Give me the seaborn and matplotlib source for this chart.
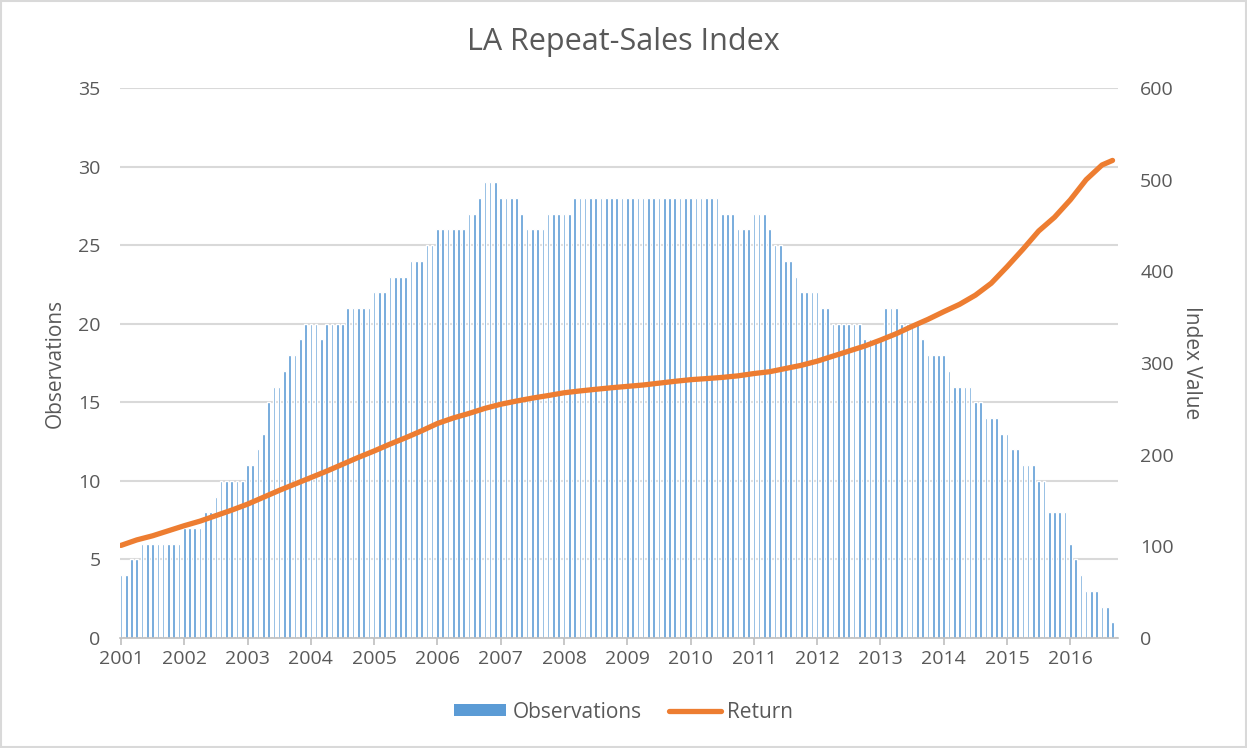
import matplotlib
matplotlib.use("Agg")
import matplotlib.pyplot as plt
import seaborn as sns
import numpy as np
import pandas as pd
from matplotlib.patches import Patch, Rectangle
from matplotlib.lines import Line2D

# monthly observation counts, Jan 2001 .. Sep 2016
obs_2001 = [4, 4, 5, 5, 6, 6, 6, 6, 6, 6, 6, 6]
obs_2002 = [7, 7, 7, 7, 8, 8, 9, 10, 10, 10, 10, 10]
obs_2003 = [11, 11, 12, 13, 15, 16, 16, 17, 18, 18, 19, 20]
obs_2004 = [20, 20, 19, 20, 20, 20, 20, 21, 21, 21, 21, 21]
obs_2005 = [22, 22, 22, 23, 23, 23, 23, 24, 24, 24, 25, 25]
obs_2006 = [26, 26, 26, 26, 26, 26, 27, 27, 28, 29, 29, 29]
obs_2007 = [28, 28, 28, 28, 27, 26, 26, 26, 26, 27, 27, 27]
obs_2008 = [27, 27, 28, 28, 28, 28, 28, 28, 28, 28, 28, 28]
obs_2009 = [28, 28, 28, 28, 28, 28, 28, 28, 28, 28, 28, 28]
obs_2010 = [28, 28, 28, 28, 28, 28, 27, 27, 27, 26, 26, 26]
obs_2011 = [27, 27, 27, 26, 25, 25, 24, 24, 23, 22, 22, 22]
obs_2012 = [22, 21, 21, 20, 20, 20, 20, 20, 20, 19, 19, 19]
obs_2013 = [19, 21, 21, 21, 20, 20, 20, 20, 19, 18, 18, 18]
obs_2014 = [18, 17, 16, 16, 16, 16, 15, 15, 14, 14, 14, 13]
obs_2015 = [13, 12, 12, 11, 11, 11, 10, 10, 8, 8, 8, 8]
obs_2016 = [6, 5, 4, 3, 3, 3, 2, 2, 1]

# index value (Return), read roughly every quarter (months since Jan 2001)
ret_month = [0, 3, 6, 9, 12, 15, 18, 21, 24, 27, 30, 33, 36, 39, 42, 45, 48, 51,
             54, 57, 60, 63, 66, 69, 72, 75, 78, 81, 84, 87, 90, 93, 96, 99, 102,
             105, 108, 111, 114, 117, 120, 123, 126, 129, 132, 135, 138, 141, 144,
             147, 150, 153, 156, 159, 162, 165, 168, 171, 174, 177, 180, 183, 186, 188]
ret_value = [101, 107, 111.5, 117, 122.5, 127.5, 133.5, 139.5, 146, 153.5, 161, 168,
             175, 182, 189.5, 197, 204, 211.5, 218.5, 226, 234, 240, 245, 250.5,
             255, 258.5, 261.7, 264.5, 267.5, 269.5, 271.3, 273, 274.5, 276, 278,
             280, 281.8, 283, 284.3, 286, 288.5, 290.5, 294, 297.5, 302, 307.5,
             313, 318.5, 325, 332, 340, 347.6, 356, 364, 374, 387, 405, 424, 444,
             459, 478, 500, 516, 521]

years = list(range(2001, 2017))
left_ticks = [0, 5, 10, 15, 20, 25, 30, 35]
right_ticks = [0, 100, 200, 300, 400, 500, 600]

observations = (obs_2001 + obs_2002 + obs_2003 + obs_2004 + obs_2005 + obs_2006 +
                obs_2007 + obs_2008 + obs_2009 + obs_2010 + obs_2011 + obs_2012 +
                obs_2013 + obs_2014 + obs_2015 + obs_2016)
bars = pd.DataFrame({
    "date": 2001 + np.arange(len(observations)) / 12.0,
    "Observations": observations,
})
line = pd.DataFrame({
    "date": 2001 + np.array(ret_month) / 12.0,
    "Return": ret_value,
})

BLUE = "#5B9BD5"
ORANGE = "#ED7D31"
TEXT = "#595959"
GRID = "#D9D9D9"

sns.set_theme(style="white")
plt.rcParams["font.family"] = ["Open Sans", "DejaVu Sans"]

fig = plt.figure(figsize=(12.47, 7.48), dpi=100)
ax = fig.add_axes([120 / 1247, 1 - 638 / 748, 998 / 1247, 550 / 748])

sns.barplot(data=bars, x="date", y="Observations", native_scale=True,
            color=BLUE, width=0.5, errorbar=None, saturation=1, ax=ax)

ax.set_xlim(2000.985, 2016.753)
ax.set_ylim(0, 35)
ax.set_yticks(left_ticks)
ax.set_xticks(years)
ax.set_xticklabels([str(y) for y in years])
ax.yaxis.grid(True, color=GRID, linewidth=1.5)
ax.set_axisbelow(True)
for s in ["left", "right", "top"]:
    ax.spines[s].set_visible(False)
ax.spines["bottom"].set_color("#BFBFBF")
ax.spines["bottom"].set_linewidth(1.2)
ax.tick_params(axis="x", colors=TEXT, labelsize=14, length=5, width=1.2,
               color="#BFBFBF", pad=4, bottom=True)
ax.tick_params(axis="y", colors=TEXT, labelsize=14, length=0, pad=14)
ax.set_xlabel("")
ax.set_ylabel("Observations", color=TEXT, fontsize=15, labelpad=9)

ax2 = ax.twinx()
sns.lineplot(data=line, x="date", y="Return", color=ORANGE, linewidth=3.8,
             solid_capstyle="round", ax=ax2)
ax2.set_ylim(0, 600)
ax2.set_yticks(right_ticks)
for s in ["left", "right", "top", "bottom"]:
    ax2.spines[s].set_visible(False)
ax2.tick_params(axis="y", colors=TEXT, labelsize=14, length=0, pad=16)
ax2.set_ylabel("Index Value", color=TEXT, fontsize=15, rotation=270, labelpad=20)
ax2.set_xlim(2000.985, 2016.753)

fig.text(0.5, 1 - 42 / 748, "LA Repeat-Sales Index", ha="center", va="center",
         fontsize=22, color=TEXT)

handles = [Patch(facecolor=BLUE, edgecolor="none"),
           Line2D([0], [0], color=ORANGE, linewidth=3.8, solid_capstyle="round")]
fig.legend(handles, ["Observations", "Return"], loc="center",
           bbox_to_anchor=(0.5, 1 - 712 / 748), ncol=2, frameon=False,
           fontsize=15, labelcolor=TEXT, handlelength=2.5, handleheight=0.55,
           columnspacing=1.3, handletextpad=0.3)

fig.patches.append(Rectangle((0.001, 0.001), 0.998, 0.997, transform=fig.transFigure,
                             fill=False, edgecolor="#D9D9D9", linewidth=1.5))

fig.savefig("out.png", dpi=100)
